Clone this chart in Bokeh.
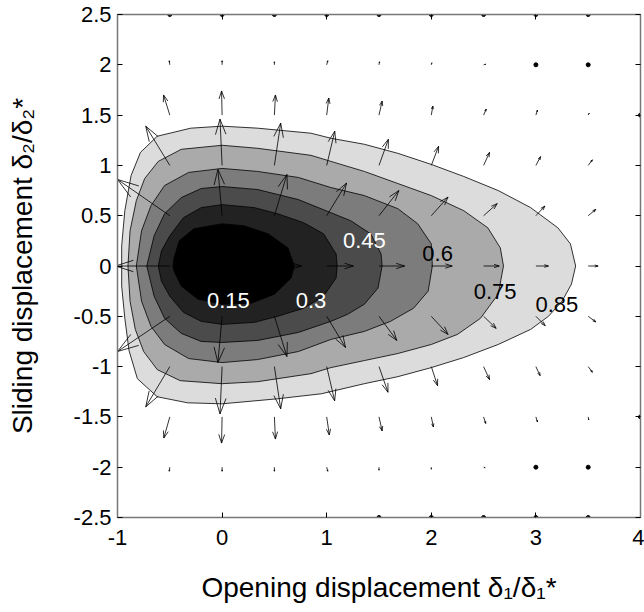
import numpy as np
from bokeh.plotting import figure
from bokeh.models import Range1d, LinearAxis, FixedTicker, Label
from bokeh.embed import file_html
from bokeh.resources import INLINE

# ---------------- data ----------------
x_ticks = [-1, 0, 1, 2, 3, 4]
x_tick_labels = ["-1", "0", "1", "2", "3", "4"]
y_ticks = [-2.5, -2, -1.5, -1, -0.5, 0, 0.5, 1, 1.5, 2, 2.5]
y_tick_labels = ["-2.5", "-2", "-1.5", "-1", "-0.5", "0", "0.5", "1", "1.5", "2", "2.5"]
x_title = "Opening displacement δ₁/δ₁*"
y_title = "Sliding displacement δ₂/δ₂*"

levels = [0.85, 0.75, 0.6, 0.45, 0.3, 0.15]
level_labels = ["0.85", "0.75", "0.6", "0.45", "0.3", "0.15"]
level_fill = ["#dcdcdc", "#aaaaaa", "#7c7c7c", "#4b4b4b", "#222222", "#000000"]
label_x = [3.20, 2.61, 2.06, 1.36, 0.85, 0.06]
label_y = [-0.38, -0.25, 0.12, 0.25, -0.34, -0.34]
label_color = ["black", "black", "black", "white", "white", "white"]

c85_x = [3.38, 3.33, 3.21, 2.95, 2.64, 2.31, 2.0, 1.68, 1.36, 1.04, 0.85, 0.34, 0.0, -0.30, -0.62, -0.78,
         -0.87, -0.93, -0.96, -0.96, -0.96, -0.93, -0.89, -0.81, -0.62, -0.33, 0.0, 0.53, 0.95, 1.36,
         1.68, 2.0, 2.31, 2.64, 2.95, 3.12, 3.25, 3.34]
c85_y = [0.0, 0.22, 0.38, 0.58, 0.75, 0.89, 1.01, 1.12, 1.21, 1.27, 1.32, 1.37, 1.39, 1.37, 1.29, 1.13,
         0.90, 0.55, 0.20, 0.0, -0.20, -0.52, -0.84, -1.12, -1.30, -1.36, -1.37, -1.32, -1.27, -1.17,
         -1.10, -1.01, -0.91, -0.78, -0.63, -0.50, -0.35, -0.18]
c75_x = [2.69, 2.66, 2.54, 2.31, 2.0, 1.68, 1.36, 1.04, 0.85, 0.34, 0.0, -0.39, -0.61, -0.74, -0.82, -0.88,
         -0.90, -0.88, -0.83, -0.75, -0.62, -0.40, 0.0, 0.34, 0.85, 1.04, 1.36, 1.68, 2.0, 2.25, 2.47, 2.64]
c75_y = [0.0, 0.18, 0.38, 0.55, 0.70, 0.82, 0.94, 1.04, 1.10, 1.17, 1.20, 1.16, 1.04, 0.87, 0.65, 0.35,
         0.0, -0.35, -0.63, -0.85, -1.03, -1.14, -1.17, -1.15, -1.07, -1.01, -0.94, -0.87, -0.78, -0.68,
         -0.52, -0.28]
c60_x = [2.01, 2.0, 1.87, 1.68, 1.36, 1.04, 0.73, 0.34, 0.0, -0.32, -0.55, -0.68, -0.77, -0.82, -0.77,
         -0.68, -0.55, -0.32, 0.0, 0.34, 0.73, 1.04, 1.36, 1.61, 1.83, 1.97]
c60_y = [0.0, 0.22, 0.42, 0.57, 0.70, 0.78, 0.88, 0.94, 0.97, 0.93, 0.80, 0.60, 0.35, 0.0, -0.35,
         -0.60, -0.78, -0.92, -0.96, -0.93, -0.85, -0.73, -0.65, -0.55, -0.42, -0.25]
c45_x = [1.53, 1.52, 1.42, 1.23, 1.04, 0.73, 0.34, 0.0, -0.20, -0.39, -0.55, -0.65, -0.72, -0.65, -0.55,
         -0.39, -0.20, 0.0, 0.34, 0.73, 1.04, 1.20, 1.36, 1.49]
c45_y = [0.0, 0.12, 0.32, 0.45, 0.53, 0.66, 0.76, 0.79, 0.77, 0.68, 0.52, 0.30, 0.0, -0.30, -0.52,
         -0.67, -0.75, -0.76, -0.74, -0.66, -0.55, -0.48, -0.38, -0.22]
c30_x = [1.10, 1.09, 0.97, 0.78, 0.53, 0.31, 0.0, -0.20, -0.37, -0.50, -0.58, -0.61, -0.58, -0.50, -0.37,
         -0.20, 0.0, 0.31, 0.53, 0.78, 0.97, 1.09]
c30_y = [0.0, 0.12, 0.32, 0.43, 0.52, 0.58, 0.61, 0.58, 0.48, 0.30, 0.15, 0.0, -0.15, -0.30, -0.46,
         -0.55, -0.58, -0.56, -0.50, -0.42, -0.30, -0.12]
c15_x = [0.69, 0.63, 0.44, 0.21, 0.0, -0.27, -0.41, -0.46, -0.47, -0.46, -0.39, -0.23, 0.0, 0.28, 0.50, 0.66]
c15_y = [0.0, 0.18, 0.32, 0.40, 0.42, 0.37, 0.25, 0.08, 0.0, -0.05, -0.20, -0.33, -0.38, -0.37, -0.28, -0.12]

# quiver grid (tail positions) and vector components, rows from y=2 down to y=-2
q_cols = [-0.5, 0, 0.5, 1, 1.5, 2, 2.5, 3, 3.5]
q_rows = [2, 1.5, 1, 0.5, 0, -0.5, -1, -1.5, -2]
q_u = [
    [-0.005, 0.0, 0.0, 0.01, 0.005, 0.005, 0.02, 0.0, 0.0],
    [-0.06, -0.005, 0.01, 0.02, 0.03, 0.015, 0.025, 0.015, 0.01],
    [-0.23, -0.02, 0.06, 0.077, 0.09, 0.07, 0.057, 0.045, 0.04],
    [-0.50, -0.04, 0.12, 0.19, 0.19, 0.16, 0.13, 0.086, 0.073],
    [-0.52, 0.0, 0.26, 0.255, 0.245, 0.20, 0.15, 0.12, 0.095],
    [-0.50, -0.04, 0.12, 0.18, 0.17, 0.16, 0.12, 0.089, 0.073],
    [-0.23, -0.02, 0.06, 0.076, 0.086, 0.06, 0.057, 0.04, 0.04],
    [-0.057, -0.005, 0.01, 0.025, 0.03, 0.02, 0.02, 0.015, 0.005],
    [-0.005, 0.0, 0.0, 0.01, 0.0, 0.0, 0.015, 0.0, 0.0],
]
q_v = [
    [0.04, 0.04, 0.03, 0.04, 0.03, 0.02, 0.005, 0.0, 0.0],
    [0.20, 0.24, 0.20, 0.17, 0.14, 0.09, 0.06, 0.05, 0.02],
    [0.39, 0.46, 0.42, 0.34, 0.26, 0.19, 0.13, 0.087, 0.055],
    [0.36, 0.46, 0.41, 0.325, 0.25, 0.185, 0.12, 0.096, 0.063],
    [0.0, 0.0, 0.0, 0.0, 0.0, 0.0, 0.0, 0.0, 0.0],
    [-0.35, -0.46, -0.40, -0.31, -0.24, -0.18, -0.12, -0.093, -0.056],
    [-0.40, -0.47, -0.42, -0.34, -0.255, -0.19, -0.13, -0.09, -0.056],
    [-0.21, -0.26, -0.22, -0.18, -0.14, -0.10, -0.065, -0.05, -0.03],
    [-0.04, -0.04, -0.04, -0.04, -0.03, -0.02, -0.005, 0.0, 0.0],
]
# near-zero vectors that show as dots
dot_x = [-0.5, 0, 0.5, 1, 1.5, 2, 2.5, 3, 3.5, 3, 3.5, 3, 3.5, 4, 4, 1.5, 2, 2.5, 3, 3.5]
dot_y = [2.5, 2.5, 2.5, 2.5, 2.5, 2.5, 2.5, 2.5, 2.5, 2, 2, -2, -2, 1.5, -1.5, -2.5, -2.5, -2.5, -2.5, -2.5]

FONT = "Liberation Sans"

p = figure(width=644, height=612, x_range=Range1d(-1, 4), y_range=Range1d(-2.5, 2.5),
           output_backend="svg", toolbar_location=None,
           min_border_left=117, min_border_right=4, min_border_top=14, min_border_bottom=95)
p.grid.visible = False
p.outline_line_color = None
p.background_fill_color = "white"
p.border_fill_color = "white"

# filled contours, outermost first
p.patches(xs=[c85_x, c75_x, c60_x, c45_x, c30_x, c15_x],
          ys=[c85_y, c75_y, c60_y, c45_y, c30_y, c15_y],
          fill_color=level_fill, line_color="black", line_width=0.8)

# quiver (MATLAB-style arrowheads)
X, Y = np.meshgrid(np.array(q_cols, float), np.array(q_rows, float))
U = np.array(q_u, float)
V = np.array(q_v, float)
X, Y, U, V = X.ravel(), Y.ravel(), U.ravel(), V.ravel()
keep = np.hypot(U, V) > 0.003
X, Y, U, V = X[keep], Y[keep], U[keep], V[keep]
alpha, beta = 0.33, 0.33
tx, ty = X + U, Y + V
p.segment(x0=X, y0=Y, x1=tx, y1=ty, line_color="black", line_width=0.8)
p.segment(x0=tx, y0=ty, x1=tx - alpha * (U + beta * V), y1=ty - alpha * (V - beta * U),
          line_color="black", line_width=0.8)
p.segment(x0=tx, y0=ty, x1=tx - alpha * (U - beta * V), y1=ty - alpha * (V + beta * U),
          line_color="black", line_width=0.8)
p.scatter(x=dot_x, y=dot_y, size=4, color="black")

# contour labels
for lx, ly, lt, lc in zip(label_x, label_y, level_labels, label_color):
    p.add_layout(Label(x=lx, y=ly, text=lt, text_color=lc, text_font=FONT,
                       text_font_size="22px", text_align="center", text_baseline="middle"))

# axes
xt = FixedTicker(ticks=x_ticks)
yt = FixedTicker(ticks=y_ticks)
xax = p.xaxis[0]
yax = p.yaxis[0]
xax.ticker = xt
yax.ticker = yt
xax.major_label_overrides = dict(zip(x_ticks, x_tick_labels))
yax.major_label_overrides = dict(zip(y_ticks, y_tick_labels))
for ax in (xax, yax):
    ax.major_tick_in = 5
    ax.major_tick_out = 0
    ax.minor_tick_line_color = None
    ax.axis_line_color = "#777777"
    ax.axis_line_width = 1.5
    ax.major_tick_line_color = "black"
    ax.major_label_text_font = FONT
    ax.major_label_text_font_size = "22px"
    ax.major_label_text_color = "black"
    ax.axis_label_text_font = FONT
    ax.axis_label_text_font_size = "28px"
    ax.axis_label_text_font_style = "normal"
    ax.axis_label_text_color = "black"
xax.major_label_standoff = 12
yax.major_label_standoff = 6
xax.axis_label = x_title
yax.axis_label = y_title
xax.axis_label_standoff = 24
yax.axis_label_standoff = 33

for loc, tk in (("right", yt), ("above", xt)):
    ax = LinearAxis(ticker=tk, major_tick_in=5, major_tick_out=0, minor_tick_line_color=None,
                    axis_line_color="#777777", axis_line_width=1.5, major_tick_line_color="black",
                    major_label_text_color=None, major_label_text_font_size="1px",
                    major_label_standoff=0)
    p.add_layout(ax, loc)

open("out.html", "w").write(file_html(p, INLINE))
